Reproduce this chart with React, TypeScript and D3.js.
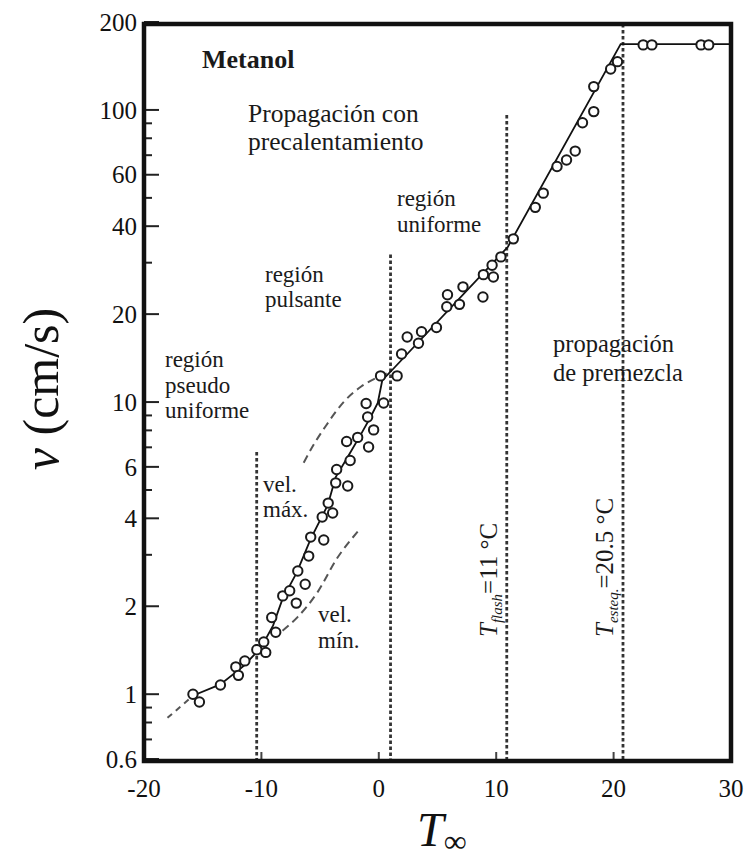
import React from "react";
import * as d3 from "d3";

// measured points: flame velocity v (cm/s) vs. initial temperature T (°C)
const tempObs = [
  -15.83, -15.28, -13.49, -12.18, -11.41, -11.96, -10.39, -9.8, -9.63, -8.78,
  -9.12, -8.18, -7.59, -7.03, -6.27, -6.9, -5.97, -5.8, -4.69, -4.82, -4.31,
  -3.93, -3.67, -3.59, -2.65, -2.44, -2.74, -1.8, -0.87, -0.44, -0.95, -1.08,
  0.41, 0.15, 1.56, 1.94, 2.42, 3.38, 3.64, 4.91, 5.79, 5.85, 6.87, 7.17, 8.87,
  8.91, 9.65, 9.76, 10.4, 11.46, 13.33, 14.01, 15.18, 15.99, 16.73, 17.35,
  18.31, 18.31, 19.75, 20.33, 22.52, 23.26, 27.45, 28.1,
];
const velObs = [
  1.0, 0.94, 1.075, 1.24, 1.3, 1.16, 1.42, 1.51, 1.39, 1.63, 1.83, 2.17, 2.26,
  2.05, 2.38, 2.64, 2.97, 3.45, 3.37, 4.04, 4.51, 4.17, 5.29, 5.88, 5.16, 6.31,
  7.33, 7.57, 7.02, 8.03, 8.89, 9.89, 9.93, 12.29, 12.29, 14.6, 16.7, 15.9,
  17.4, 18.0, 21.2, 23.3, 21.6, 24.8, 22.9, 27.3, 29.4, 26.8, 31.4, 36.2, 46.4,
  51.9, 64.0, 67.4, 72.3, 90.4, 98.7, 120.2, 138.1, 146.3, 167, 167, 167, 167,
];

// fitted curve
const fitT = [
  -15.8, -13.5, -11.5, -10, -9, -8.2, -7, -5.8, -4.35, -3.67, -2.65, -1.55,
  -0.7, -0.09, 0.3, 1.0, 11, 20.6, 30,
];
const fitV = [
  0.99, 1.08, 1.25, 1.45, 1.72, 2.12, 2.6, 3.4, 4.44, 5.54, 6.49, 7.72, 8.89,
  9.93, 11.9, 12.7, 34, 168, 168,
];
const extT = [-18, -15.8];
const extV = [0.83, 0.99];

// envelopes of the pulsating region
const maxT = [-6.4, -5.5, -4.5, -3, -1.5, 0, 1];
const maxV = [6.2, 7.2, 8.3, 10.0, 11.3, 12.2, 12.7];
const minT = [-8.2, -6.9, -5.2, -3.6, -1.8];
const minV = [1.65, 1.84, 2.24, 2.9, 3.6];

// region boundaries (T, top of the dotted line)
const boundT = [-10.4, 1, 10.9, 20.8];
const boundTop = [6.75, 32, 96, 200];

const xTicks = [-20, -10, 0, 10, 20, 30];
const yLabels = [0.6, 1, 2, 4, 6, 10, 20, 40, 60, 100, 200];

const font = "Liberation Serif, Times New Roman, serif";

export default function App() {
  const left = 144, right = 731, top = 24, bottom = 761;
  const x = d3.scaleLinear().domain([-20, 30]).range([left, right]);
  const y = d3.scaleLog().domain([0.6, 200]).range([759, 22]);

  const line = (ts: number[], vs: number[]) =>
    d3
      .line<number>()
      .x((d) => x(d))
      .y((_, i) => y(vs[i]))(ts) || "";
  const curve = (ts: number[], vs: number[]) =>
    d3
      .line<number>()
      .x((d) => x(d))
      .y((_, i) => y(vs[i]))
      .curve(d3.curveMonotoneX)(ts) || "";

  const minor: number[] = [];
  [0.1, 1, 10, 100].forEach((dec) => {
    for (let k = 1; k <= 9; k++) {
      const v = +(k * dec).toPrecision(3);
      if (v >= 0.6 && v <= 200) minor.push(v);
    }
  });
  minor.push(200);

  return (
    <svg width={745} height={868} style={{ display: "block", position: "absolute", left: 0, top: 0 }}
      fontFamily={font}>
      <rect width={745} height={868} fill="#fff" />

      {/* boundaries */}
      {boundT.map((t, i) => (
        <line key={"b" + i} x1={x(t)} x2={x(t)} y1={Math.max(y(boundTop[i]), top)} y2={bottom}
          stroke="#333" strokeWidth={2.8} strokeDasharray="3.5 2.5" />
      ))}

      {/* envelopes */}
      <path d={curve(maxT, maxV)} fill="none" stroke="#555" strokeWidth={2} strokeDasharray="8 5" />
      <path d={curve(minT, minV)} fill="none" stroke="#555" strokeWidth={2} strokeDasharray="8 5" />
      <path d={line(extT, extV)} fill="none" stroke="#555" strokeWidth={2} strokeDasharray="6 5" />

      {/* fit */}
      <path d={line(fitT, fitV)} fill="none" stroke="#111" strokeWidth={1.8} />

      {/* data */}
      {tempObs.map((t, i) => (
        <circle key={"p" + i} cx={x(t)} cy={y(velObs[i])} r={4.7} fill="#fff" stroke="#1a1a1a" strokeWidth={2} />
      ))}

      {/* y ticks */}
      {minor.map((v) => (
        <line key={"m" + v} x1={left} x2={left + (yLabels.includes(v) ? 15 : 8)} y1={y(v)} y2={y(v)}
          stroke="#222" strokeWidth={2} />
      ))}
      {yLabels.map((v) => (
        <text key={"yl" + v} x={137} y={y(v)} dy="0.35em" textAnchor="end" fontSize={25} fill="#111"
          fontFamily={font}>
          {v}
        </text>
      ))}

      {/* x ticks */}
      {xTicks.map((t) => (
        <g key={"xt" + t}>
          {t > -20 && t < 30 && (
            <line x1={x(t)} x2={x(t)} y1={bottom} y2={bottom - 9} stroke="#444" strokeWidth={2} />
          )}
          <text x={x(t)} y={797} textAnchor="middle" fontSize={25} fill="#111" fontFamily={font}>
            {t}
          </text>
        </g>
      ))}

      {/* frame */}
      <rect x={left} y={top} width={right - left} height={bottom - top} fill="none" stroke="#111" strokeWidth={4.5} />

      {/* annotations */}
      <g fontSize={23} fill="#1a1a1a" fontFamily={font}>
        <text x={202} y={68} fontSize={26} fontWeight="bold">Metanol</text>
        <text x={248} y={122} fontSize={25.5}>Propagación con</text>
        <text x={248} y={150} fontSize={25.5}>precalentamiento</text>
        <text x={397} y={206}>región</text>
        <text x={397} y={232}>uniforme</text>
        <text x={265} y={282}>región</text>
        <text x={265} y={307}>pulsante</text>
        <text x={165} y={367}>región</text>
        <text x={165} y={393}>pseudo</text>
        <text x={165} y={418}>uniforme</text>
        <text x={553} y={352} fontSize={24.5}>propagación</text>
        <text x={553} y={381} fontSize={24.5}>de premezcla</text>
        <text x={263} y={492}>vel.</text>
        <text x={263} y={517}>máx.</text>
        <text x={318} y={622}>vel.</text>
        <text x={318} y={648}>mín.</text>
        <text transform="translate(497,637) rotate(-90)" fontSize={25}>
          <tspan fontStyle="italic">T</tspan>
          <tspan fontStyle="italic" fontSize={15} dy={5}>flash</tspan>
          <tspan dy={-5}>=11 °C</tspan>
        </text>
        <text transform="translate(613,637) rotate(-90)" fontSize={25}>
          <tspan fontStyle="italic">T</tspan>
          <tspan fontStyle="italic" fontSize={15} dy={5}>esteq.</tspan>
          <tspan dy={-5}>=20.5 °C</tspan>
        </text>
      </g>

      {/* axis titles */}
      <text transform="translate(58,389) rotate(-90)" textAnchor="middle" fontSize={50} fill="#111"
        fontFamily={font}>
        <tspan fontStyle="italic">v</tspan> (cm/s)
      </text>
      <text x={417} y={846} fontSize={48} fill="#111" fontFamily={font}>
        <tspan fontStyle="italic">T</tspan>
        <tspan fontSize={32} dy={6}>∞</tspan>
      </text>
    </svg>
  );
}
